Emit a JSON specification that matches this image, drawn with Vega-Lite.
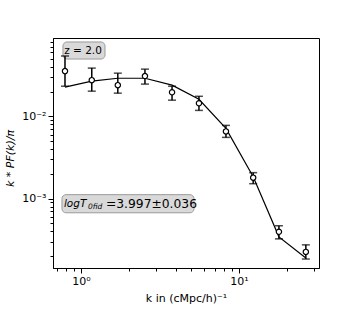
{
  "$schema": "https://vega.github.io/schema/vega-lite/v6.json",
  "width": 266,
  "height": 230,
  "autosize": "none",
  "padding": {"left": 53, "top": 38, "right": 35, "bottom": 47},
  "background": "white",
  "config": {
    "view": {"stroke": "black", "strokeWidth": 1},
    "font": "DejaVu Sans",
    "axis": {
      "grid": false,
      "domainColor": "black",
      "tickColor": "black",
      "labelColor": "black",
      "titleColor": "black",
      "labelFont": "DejaVu Sans",
      "titleFont": "DejaVu Sans",
      "labelFontSize": 11,
      "titleFontSize": 11,
      "titleFontWeight": "normal"
    }
  },
  "datasets": {
    "points": [
      {"k": 0.792, "v": 0.0354, "lo": 0.0232, "hi": 0.054},
      {"k": 1.17, "v": 0.0275, "lo": 0.0202, "hi": 0.0385},
      {"k": 1.71, "v": 0.0239, "lo": 0.0191, "hi": 0.0334},
      {"k": 2.54, "v": 0.0308, "lo": 0.0246, "hi": 0.0374},
      {"k": 3.77, "v": 0.0196, "lo": 0.0157, "hi": 0.0232},
      {"k": 5.58, "v": 0.0144, "lo": 0.0118, "hi": 0.0175},
      {"k": 8.27, "v": 0.00656, "lo": 0.00555, "hi": 0.00776},
      {"k": 12.3, "v": 0.0018, "lo": 0.00152, "hi": 0.00207},
      {"k": 17.9, "v": 0.000396, "lo": 0.000325, "hi": 0.000469},
      {"k": 26.5, "v": 0.000226, "lo": 0.000185, "hi": 0.000275}
    ],
    "model": [
      {"k": 0.792, "v": 0.0226},
      {"k": 1.17, "v": 0.0267},
      {"k": 1.71, "v": 0.029},
      {"k": 2.54, "v": 0.029},
      {"k": 3.77, "v": 0.0239},
      {"k": 5.58, "v": 0.0161},
      {"k": 8.27, "v": 0.00714},
      {"k": 12.3, "v": 0.00185},
      {"k": 17.9, "v": 0.000344},
      {"k": 26.5, "v": 0.00019}
    ],
    "boxes": [
      {"k": 0.769, "k2": 1.419, "v": 0.0799, "v2": 0.0496},
      {"k": 0.758, "k2": 5.19, "v": 0.001119, "v2": 0.000674}
    ],
    "labels": [
      {"k": 1.03, "v": 0.0629, "text": "z = 2.0", "part": "z"},
      {"k": 0.78, "v": 0.000869, "text": "logT", "part": "main"},
      {"k": 1.107, "v": 0.000799, "text": "0fid", "part": "sub"},
      {"k": 1.439, "v": 0.000869, "text": "=3.997±0.036", "part": "val"}
    ]
  },
  "encoding": {
    "x": {
      "field": "k",
      "type": "quantitative",
      "scale": {"type": "log", "domain": [0.665, 32.1], "nice": false},
      "axis": {
        "title": "k in (cMpc/h)⁻¹",
        "titlePadding": 6,
        "values": [0.7, 0.8, 0.9, 1, 2, 3, 4, 5, 6, 7, 8, 9, 10, 20, 30],
        "labelExpr": "datum.value == 1 ? '10⁰' : (datum.value == 10 ? '10¹' : '')",
        "tickSize": {"condition": {"test": "datum.value == 1 || datum.value == 10", "value": 5}, "value": 3},
        "labelFlush": false,
        "labelOverlap": false
      }
    },
    "y": {
      "field": "v",
      "type": "quantitative",
      "scale": {"type": "log", "domain": [0.000144, 0.0893], "nice": false},
      "axis": {
        "title": "k * PF(k)/π",
        "titleFontStyle": "italic",
        "titlePadding": 6,
        "titleY": 120,
        "values": [0.0002, 0.0003, 0.0004, 0.0005, 0.0006, 0.0007, 0.0008, 0.0009, 0.001, 0.002, 0.003, 0.004, 0.005, 0.006, 0.007, 0.008, 0.009, 0.01, 0.02, 0.03, 0.04, 0.05, 0.06, 0.07, 0.08],
        "labelExpr": "datum.value == 0.01 ? '10⁻²' : (datum.value == 0.001 ? '10⁻³' : '')",
        "tickSize": {"condition": {"test": "datum.value == 0.01 || datum.value == 0.001", "value": 5}, "value": 3},
        "labelFlush": false,
        "labelOverlap": false
      }
    }
  },
  "layer": [
    {
      "data": {"name": "boxes"},
      "mark": {"type": "rect", "fill": "#d9d9d9", "stroke": "#9a9a9a", "strokeWidth": 1, "cornerRadius": 4},
      "encoding": {
        "x2": {"field": "k2"},
        "y2": {"field": "v2"}
      }
    },
    {
      "data": {"name": "model"},
      "mark": {"type": "line", "color": "black", "strokeWidth": 1.2},
      "encoding": {}
    },
    {
      "data": {"name": "points"},
      "mark": {"type": "rule", "color": "black", "strokeWidth": 1.5},
      "encoding": {
        "y": {"field": "lo", "type": "quantitative"},
        "y2": {"field": "hi"}
      }
    },
    {
      "data": {"name": "points"},
      "mark": {"type": "tick", "color": "black", "orient": "horizontal", "size": 8, "thickness": 1.5},
      "encoding": {
        "y": {"field": "lo", "type": "quantitative"}
      }
    },
    {
      "data": {"name": "points"},
      "mark": {"type": "tick", "color": "black", "orient": "horizontal", "size": 8, "thickness": 1.5},
      "encoding": {
        "y": {"field": "hi", "type": "quantitative"}
      }
    },
    {
      "data": {"name": "points"},
      "mark": {"type": "point", "shape": "circle", "filled": true, "fill": "white", "stroke": "black", "strokeWidth": 1.2, "size": 28, "opacity": 1},
      "encoding": {}
    },
    {
      "data": {"name": "labels"},
      "transform": [{"filter": "datum.part == 'z'"}],
      "mark": {"type": "text", "align": "center", "baseline": "middle", "fontSize": 10.5, "color": "black", "font": "DejaVu Sans"},
      "encoding": {"text": {"field": "text"}}
    },
    {
      "data": {"name": "labels"},
      "transform": [{"filter": "datum.part == 'main'"}],
      "mark": {"type": "text", "align": "left", "baseline": "middle", "fontSize": 10.5, "fontStyle": "italic", "color": "black", "font": "DejaVu Sans"},
      "encoding": {"text": {"field": "text"}}
    },
    {
      "data": {"name": "labels"},
      "transform": [{"filter": "datum.part == 'sub'"}],
      "mark": {"type": "text", "align": "left", "baseline": "middle", "fontSize": 7.5, "fontStyle": "italic", "color": "black", "font": "DejaVu Sans"},
      "encoding": {"text": {"field": "text"}}
    },
    {
      "data": {"name": "labels"},
      "transform": [{"filter": "datum.part == 'val'"}],
      "mark": {"type": "text", "align": "left", "baseline": "middle", "fontSize": 12.3, "color": "black", "font": "DejaVu Sans"},
      "encoding": {"text": {"field": "text"}}
    }
  ]
}
